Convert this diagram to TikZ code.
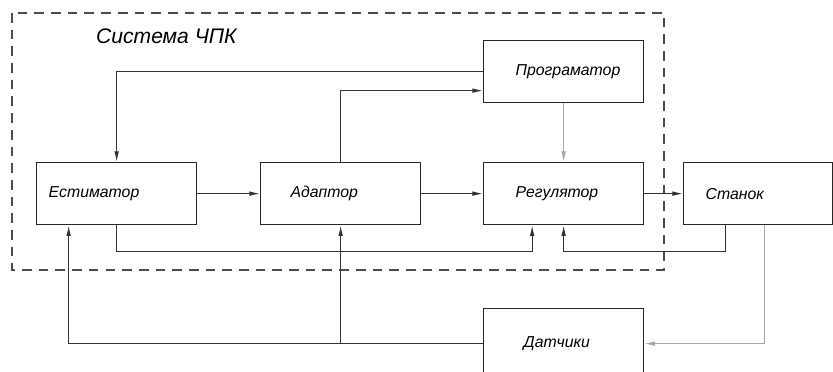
\documentclass[tikz,border=0pt]{standalone}
\usepackage{fontspec}
\setmainfont{Liberation Sans}
\usetikzlibrary{arrows.meta}
\usetikzlibrary{calc}

\begin{document}
\begin{tikzpicture}[x=0.02cm, y=-0.02cm,
        blok/.style={draw=black!85, line width=0.75pt, anchor=north west, minimum width=3.2cm, minimum height=1.24cm, align=left, font=\itshape\small, inner xsep=0pt},
        svyaz/.style={draw=black!80, line width=0.6pt, -{Latex[length=6pt, width=2.6pt]}},
        svyazsv/.style={svyaz, draw=black!35},
        ramka/.style={draw=black!70, line width=0.9pt, dash pattern=on 5.5pt off 4pt}]
        \useasboundingbox (0,0) rectangle (833,372);
        \draw[ramka] (12,13) rectangle (664,270);
        \node[anchor=west, font=\itshape\large] (zagol) at (90,36) {Система ЧПК};
        \node[blok, text width=2.72cm] (est) at (36,162) {Естиматор};
        \node[blok, text width=2.0cm] (adap) at (260,162) {Адаптор};
        \node[blok, text width=1.92cm] (reg) at (483,162) {Регулятор\\[5pt]};
        \node[blok, text width=1.92cm] (prog) at (483,40) {Програматор};
        \node[blok, minimum width=2.98cm, text width=2.1cm] (stan) at (683,162) {Станок\\[5pt]};
        \node[blok, minimum height=1.4cm, text width=1.6cm] (dat) at (483,308) {Датчики};
        \draw[svyaz] (prog.west) -| (est.north);
        \draw[svyaz] (adap.north) |- ([yshift=-0.38cm]prog.west);
        \draw[svyazsv] (prog.south) -- (reg.north);
        \draw[svyaz] (est.east) -- (adap.west);
        \draw[svyaz] (adap.east) -- (reg.west);
        \draw[svyaz] (reg.east) -- (stan.west);
        \draw[svyaz] (est.south) -- ++(0,26) -| ([xshift=-0.63cm]reg.south);
        \draw[svyaz] ([xshift=-0.65cm]stan.south) -- ++(0,26) -| (reg.south);
        \draw[svyazsv] ([xshift=0.13cm]stan.south) |- (dat.east);
        \draw[svyaz] (dat.west) -| ([xshift=-0.96cm]est.south);
        \coordinate (razv) at (adap.south |- dat.west);
        \draw[svyaz] (razv) -- (adap.south);
\end{tikzpicture}
\end{document}
